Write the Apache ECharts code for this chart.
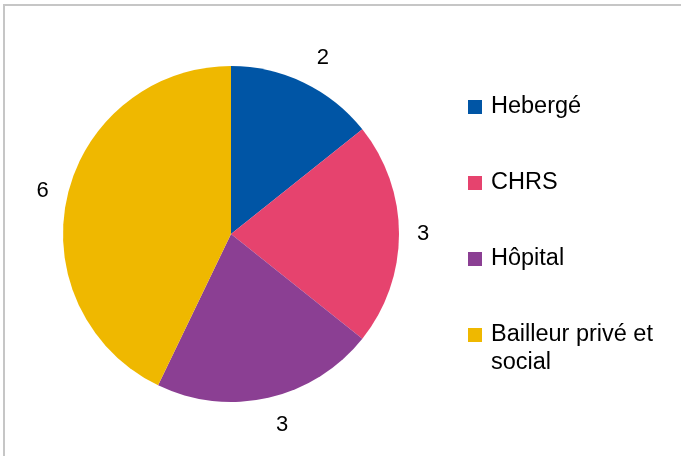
<!DOCTYPE html>
<html>
<head>
<meta charset="utf-8">
<script src="https://cdn.jsdelivr.net/npm/echarts@6/dist/echarts.min.js"></script>
<style>
  html, body { margin: 0; padding: 0; background: #fff; }
  #main { width: 681px; height: 456px; }
</style>
</head>
<body>
<div id="main"></div>
<script>
// données
var categories = ['Hebergé', 'CHRS', 'Hôpital', 'Bailleur privé et\nsocial'];
var values = [2, 3, 3, 6];
var colors = ['#0055a5', '#e6436e', '#8b3f93', '#efb800'];

// petits décalages des étiquettes (placement façon Excel)
var labelShift = [[0, -2], [-9, 0], [0, 3], [8, 0]];

var myChart = echarts.init(document.getElementById('main'));

var pieData = categories.map(function (name, i) {
    return { name: name, value: values[i], itemStyle: { color: colors[i] } };
});

// même hauteur de boîte (84px) pour chaque entrée : l'icône reste sur la 1re ligne
var legendData = categories.map(function (name) {
    var item = { name: name };
    if (name.indexOf('\n') >= 0) {
        item.textStyle = { lineHeight: 28, padding: [0, 0, 0, 4] };
    }
    return item;
});

var option = {
    animation: false,
    backgroundColor: '#fff',
    graphic: [{
        type: 'rect',
        shape: { x: 4, y: 5, width: 760, height: 520 },
        style: { fill: 'none', stroke: '#c6c6c6', lineWidth: 2 },
        silent: true
    }],
    legend: {
        orient: 'vertical',
        left: 463,
        top: 60,
        itemWidth: 14,
        itemHeight: 14,
        itemGap: -8,
        icon: 'rect',
        selectedMode: false,
        formatter: function (name) {
            // ligne vide en tête pour caler la 1re ligne sur le carré
            return name.indexOf('\n') >= 0 ? '\n' + name : name;
        },
        textStyle: {
            fontFamily: 'Liberation Sans, Arial, sans-serif',
            fontSize: 23.5,
            lineHeight: 24,
            color: '#000',
            padding: [30, 0, 30, 4]
        },
        data: legendData
    },
    series: [{
        type: 'pie',
        center: [231, 234],
        radius: 168,
        startAngle: 90,
        clockwise: true,
        avoidLabelOverlap: false,
        data: pieData,
        label: {
            show: true,
            position: 'outside',
            formatter: '{c}',
            fontFamily: 'Liberation Sans, Arial, sans-serif',
            fontSize: 22,
            color: '#000',
            distanceToLabelLine: 2
        },
        labelLine: { show: false, length: 25, length2: 0 },
        labelLayout: function (params) {
            var s = labelShift[params.dataIndex];
            return { dx: s[0], dy: s[1] };
        },
        emphasis: { disabled: true }
    }]
};

myChart.setOption(option);
</script>
</body>
</html>
